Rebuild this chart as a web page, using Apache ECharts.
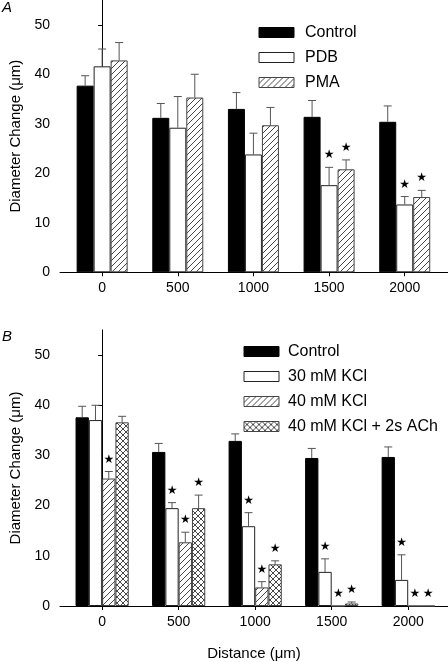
<!DOCTYPE html>
<html>
<head>
<meta charset="utf-8">
<script src="https://cdn.jsdelivr.net/npm/echarts@6/dist/echarts.min.js"></script>
<style>
html,body{margin:0;padding:0;background:#fff;}
#chart{width:448px;height:662px;}
</style>
</head>
<body>
<div id="chart"></div>
<script>
// ---- data ----
const distances = [0, 500, 1000, 1500, 2000];
const distanceLabels = ['0', '500', '1000', '1500', '2000'];
const yTicks = [0, 10, 20, 30, 40, 50];

// Panel A
const controlA = [37.7, 31.2, 33.0, 31.4, 30.4];
const controlAErr = [2.0, 2.9, 3.3, 3.3, 3.2];
const controlASig = [0, 0, 0, 0, 0];
const pdbA = [41.6, 29.2, 23.8, 17.6, 13.7];
const pdbAErr = [3.5, 6.3, 4.3, 3.6, 1.6];
const pdbASig = [0, 0, 0, 1, 1];
const pmaA = [42.8, 35.3, 29.7, 20.8, 15.2];
const pmaAErr = [3.6, 4.7, 3.6, 1.9, 1.35];
const pmaASig = [0, 0, 0, 1, 1];

// Panel B
const controlB = [37.6, 30.7, 32.9, 29.5, 29.7];
const controlBErr = [2.2, 1.7, 1.4, 1.9, 2.0];
const controlBSig = [0, 0, 0, 0, 0];
const kcl30B = [37.05, 19.5, 15.9, 6.8, 5.2];
const kcl30BErr = [2.95, 1.1, 2.7, 2.6, 5.0];
const kcl30BSig = [0, 1, 1, 1, 1];
const kcl40B = [25.4, 12.7, 3.7, 0, 0];
const kcl40BErr = [1.4, 2.0, 1.15, 0, 0];
const kcl40BSig = [1, 1, 1, 1, 1];
const achB = [36.6, 19.5, 8.3, 0.5, 0];
const achBErr = [1.2, 2.6, 0.7, 0.3, 0];
const achBSig = [0, 1, 1, 1, 1];

// ---- patterns ----
function makePattern(cross) {
  const c = document.createElement('canvas');
  const s = 6;
  c.width = s; c.height = s;
  const g = c.getContext('2d');
  g.fillStyle = '#fff';
  g.fillRect(0, 0, s, s);
  g.strokeStyle = '#333';
  g.lineWidth = 0.9;
  g.beginPath();
  g.moveTo(0, s); g.lineTo(s, 0);
  g.moveTo(-1, 1); g.lineTo(1, -1);
  g.moveTo(s - 1, s + 1); g.lineTo(s + 1, s - 1);
  if (cross) {
    g.moveTo(0, 0); g.lineTo(s, s);
    g.moveTo(-1, s - 1); g.lineTo(1, s + 1);
    g.moveTo(s - 1, -1); g.lineTo(s + 1, 1);
  }
  g.stroke();
  return { image: c, repeat: 'repeat' };
}
const hatch = makePattern(false);
const crossHatch = makePattern(true);

const FONT = 'Liberation Sans, Arial, sans-serif';

const styles = {
  black: { color: '#000', borderColor: '#000', borderWidth: 1 },
  white: { color: '#fff', borderColor: '#222', borderWidth: 1 },
  hatch: { color: hatch, borderColor: '#444', borderWidth: 1 },
  cross: { color: crossHatch, borderColor: '#444', borderWidth: 1 }
};

function barSeries(name, axis, vals, style, bw) {
  return {
    type: 'bar', name: name, xAxisIndex: axis, yAxisIndex: axis,
    barWidth: bw, barGap: '0%',
    data: distances.map((d, k) => [d, vals[k]]),
    itemStyle: style, emphasis: { disabled: true }, silent: true, z: 2
  };
}

function errSeries(axis, vals, errs, sigs, idx, n, bw) {
  return {
    type: 'custom', name: 'err' + axis + '_' + idx,
    xAxisIndex: axis, yAxisIndex: axis, silent: true, z: 5, clip: false,
    data: distances.map((d, k) => [d, vals[k], errs[k], sigs[k]]),
    encode: { x: 0, y: 1 },
    renderItem: function (params, api) {
      const off = (idx - (n - 1) / 2) * bw;
      const x = api.value(0), v = api.value(1), e = api.value(2), s = api.value(3);
      const base = api.coord([x, v]);
      const top = api.coord([x, v + e]);
      const cx = base[0] + off;
      const children = [];
      if (e > 0) {
        children.push({ type: 'line', shape: { x1: cx, y1: base[1], x2: cx, y2: top[1] },
          style: { stroke: '#555', lineWidth: 1 } });
        children.push({ type: 'line', shape: { x1: cx - 4, y1: top[1], x2: cx + 4, y2: top[1] },
          style: { stroke: '#555', lineWidth: 1 } });
      }
      if (s) {
        children.push({ type: 'text', style: { text: '★', x: cx, y: top[1] - 12,
          align: 'center', verticalAlign: 'middle', fontSize: 12, fill: '#000', fontFamily: 'DejaVu Sans' } });
      }
      return { type: 'group', children: children };
    }
  };
}

const bwA = 17, bwB = 13.3;

const series = [
  barSeries('Control', 0, controlA, styles.black, bwA),
  barSeries('PDB', 0, pdbA, styles.white, bwA),
  barSeries('PMA', 0, pmaA, styles.hatch, bwA),
  errSeries(0, controlA, controlAErr, controlASig, 0, 3, bwA),
  errSeries(0, pdbA, pdbAErr, pdbASig, 1, 3, bwA),
  errSeries(0, pmaA, pmaAErr, pmaASig, 2, 3, bwA),
  barSeries('Control ', 1, controlB, styles.black, bwB),
  barSeries('30 mM KCl', 1, kcl30B, styles.white, bwB),
  barSeries('40 mM KCl', 1, kcl40B, styles.hatch, bwB),
  barSeries('40 mM KCl + 2s ACh', 1, achB, styles.cross, bwB),
  errSeries(1, controlB, controlBErr, controlBSig, 0, 4, bwB),
  errSeries(1, kcl30B, kcl30BErr, kcl30BSig, 1, 4, bwB),
  errSeries(1, kcl40B, kcl40BErr, kcl40BSig, 2, 4, bwB),
  errSeries(1, achB, achBErr, achBSig, 3, 4, bwB)
];

function xAxis(idx, min, max, name) {
  return {
    type: 'value', gridIndex: idx, min: min, max: max,
    name: name || '', nameLocation: 'middle', nameGap: 40,
    nameTextStyle: { fontSize: 15, color: '#000', fontFamily: FONT },
    axisLine: { show: true, onZero: false, lineStyle: { color: '#000', width: 1 } },
    axisTick: { show: true, inside: false, length: 4, customValues: distances, lineStyle: { color: '#000' } },
    axisLabel: { show: true, customValues: distances, margin: 9, fontSize: 14, color: '#000', fontFamily: FONT,
      formatter: function (v) { const i = distances.indexOf(v); return i >= 0 ? distanceLabels[i] : ''; } },
    splitLine: { show: false }
  };
}
function yAxis(idx) {
  return {
    type: 'value', gridIndex: idx, min: 0, max: 55,
    name: 'Diameter Change (\u03bcm)', nameLocation: 'middle', nameGap: 37,
    nameTextStyle: { fontSize: 15, color: '#000', fontFamily: FONT },
    axisLine: { show: true, lineStyle: { color: '#000', width: 1 } },
    axisTick: { show: true, length: 4, customValues: yTicks, lineStyle: { color: '#000' } },
    axisLabel: { show: true, customValues: yTicks, margin: 10, fontSize: 14, color: '#000', fontFamily: FONT },
    splitLine: { show: false }
  };
}

const legendBase = {
  orient: 'vertical', itemWidth: 35, itemHeight: 10, padding: 0, selectedMode: false, icon: 'rect',
  itemStyle: { borderWidth: 1 }
};

const option = {
  animation: false,
  backgroundColor: '#fff',
  grid: [
    { left: 52, right: 0, top: 0, height: 272.3 },
    { left: 52, right: 0, top: 330, height: 276 }
  ],
  xAxis: [xAxis(0, -278.5, 2286), xAxis(1, -275.4, 2260, 'Distance (\u03bcm)')],
  yAxis: [yAxis(0), yAxis(1)],
  legend: [
    Object.assign({}, legendBase, { data: ['Control', 'PDB', 'PMA'], left: 258.5, top: 24.5, itemGap: 9,
      textStyle: { fontSize: 16, color: '#000', fontFamily: FONT, lineHeight: 10, padding: [0, 0, 0, 6] } }),
    Object.assign({}, legendBase, { data: ['Control ', '30 mM KCl', '40 mM KCl', '40 mM KCl + 2s ACh'], left: 243.5, top: 343.5, itemGap: 9,
      textStyle: { fontSize: 16, color: '#000', fontFamily: FONT, lineHeight: 10, padding: [0, 0, 0, 4] },
      formatter: function (n) { return n.trim(); } })
  ],
  graphic: [
    { type: 'text', left: 2, top: 0, style: { text: 'A', fontSize: 15, fontStyle: 'italic', fill: '#000', fontFamily: FONT } },
    { type: 'text', left: 2, top: 329, style: { text: 'B', fontSize: 15, fontStyle: 'italic', fill: '#000', fontFamily: FONT } }
  ],
  series: series
};

const chart = echarts.init(document.getElementById('chart'), null, { renderer: 'canvas' });
chart.setOption(option);
</script>
</body>
</html>
